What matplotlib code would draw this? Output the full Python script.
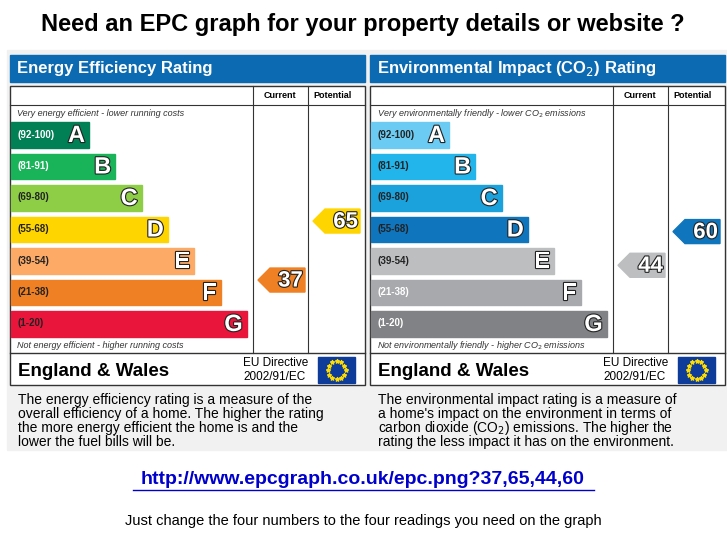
import matplotlib
matplotlib.use("Agg")
import matplotlib.pyplot as plt
from matplotlib.patches import Rectangle, Polygon
import matplotlib.patheffects as pe
import numpy as np

bands = ["A", "B", "C", "D", "E", "F", "G"]
ranges = ["(92-100)", "(81-91)", "(69-80)", "(55-68)", "(39-54)", "(21-38)", "(1-20)"]
band_min = [92, 81, 69, 55, 39, 21, 1]
ee_colors = ["#008054", "#19b459", "#8dce46", "#ffd500", "#fcaa65", "#ef8023", "#e9153b"]
ei_colors = ["#6bcbf3", "#22b5eb", "#1ba2dc", "#0f75bc", "#bcbec0", "#a7a9ac", "#808285"]
ee_label_colors = ["white", "white", "#222222", "#222222", "#222222", "#222222", "#222222"]
ei_label_colors = ["#222222", "#222222", "#222222", "#222222", "#222222", "white", "white"]
ee_current, ee_potential = 37, 65
ei_current, ei_potential = 44, 60

FONT = "Liberation Sans"
fig = plt.figure(figsize=(7.27, 5.45), dpi=100)
ax = fig.add_axes([0, 0, 1, 1])
ax.set_xlim(0, 727); ax.set_ylim(545, 0); ax.axis("off")
fig.patch.set_facecolor("white")

ax.text(363, 25, "Need an EPC graph for your property details or website ?", ha="center", va="center",
        fontsize=17, fontweight="bold", family=FONT)
ax.add_patch(Rectangle((7, 50), 720, 400, color="#f1f1f1", zorder=0))

outline = [pe.withStroke(linewidth=1.6, foreground="#222222")]

def band_of(v):
    for i, m in enumerate(band_min):
        if v >= m:
            return i
    return 6

def arrow(x0, x1, val, colors):
    yc = 358 - 2.107 * val
    h = 12
    poly = Polygon([(x0, yc), (x0 + 12, yc - h), (x1, yc - h), (x1, yc + h), (x0 + 12, yc + h)],
                   color=colors[band_of(val)], zorder=3)
    ax.add_patch(poly)
    ax.text(x1 - 2, yc + 1, str(val), ha="right", va="center", fontsize=16, fontweight="bold",
            color="white", path_effects=outline, zorder=4, family=FONT)

def panel(ox, title, colors, lcolors, top_txt, bot_txt, cur, pot, desc):
    ax.add_patch(Rectangle((ox + 10, 55), 355, 27, color="#0b6ab1", zorder=1))
    ax.text(ox + 17, 69, title, va="center", fontsize=12, fontweight="bold", color="white", family=FONT)
    ax.add_patch(Rectangle((ox + 10, 86), 355, 299, facecolor="white", edgecolor="#333333", lw=1, zorder=1))
    ax.plot([ox + 10, ox + 365], [105, 105], color="#333333", lw=0.8, zorder=2)
    ax.plot([ox + 10, ox + 365], [353, 353], color="#333333", lw=1, zorder=2)
    for xx in (253, 308):
        ax.plot([ox + xx] * 2, [86, 353], color="#333333", lw=0.8, zorder=2)
    ax.text(ox + 280, 96, "Current", ha="center", va="center", fontsize=6.5, fontweight="bold", family=FONT)
    ax.text(ox + 333, 96, "Potential", ha="center", va="center", fontsize=6.5, fontweight="bold", family=FONT)
    ax.text(ox + 17, 113, top_txt, va="center", fontsize=6.5, style="italic", color="#333333", family=FONT)
    ax.text(ox + 17, 345, bot_txt, va="center", fontsize=6.5, style="italic", color="#333333", family=FONT)
    for i, (b, r, c) in enumerate(zip(bands, ranges, colors)):
        y = 122 + i * 31.5
        w = 78 + i * 26.3
        ax.add_patch(Rectangle((ox + 11, y), w, 25.5, color=c, zorder=2))
        ax.text(ox + 17, y + 12.5, r, va="center", fontsize=7, fontweight="bold", color=lcolors[i],
                zorder=3, family=FONT)
        ax.text(ox + 11 + w - 4, y + 13.5, b, ha="right", va="center", fontsize=17, fontweight="bold",
                color="white", path_effects=outline, zorder=3, family=FONT)
    arrow(ox + 258, ox + 305, cur, colors)
    arrow(ox + 313, ox + 360, pot, colors)
    ax.text(ox + 18, 371, "England & Wales", va="center", fontsize=13.5, fontweight="bold", family=FONT)
    ax.text(ox + 243, 363, "EU Directive", va="center", fontsize=8.5, family=FONT)
    ax.text(ox + 243, 377, "2002/91/EC", va="center", fontsize=8.5, family=FONT)
    ax.add_patch(Rectangle((ox + 318, 357), 37, 26, color="#0d3c9b", zorder=2))
    ang = np.linspace(0, 2 * np.pi, 13)[:-1]
    ax.scatter(ox + 336.5 + 9 * np.cos(ang), 370 + 9 * np.sin(ang), marker="*", s=8, color="#ffdd00", zorder=3)
    for k, line in enumerate(desc):
        ax.text(ox + 18, 400 + k * 14, line, va="center", fontsize=10, family=FONT)

panel(0, "Energy Efficiency Rating", ee_colors, ee_label_colors,
      "Very energy efficient - lower running costs", "Not energy efficient - higher running costs",
      ee_current, ee_potential,
      ["The energy efficiency rating is a measure of the", "overall efficiency of a home. The higher the rating",
       "the more energy efficient the home is and the", "lower the fuel bills will be."])
panel(360, "Environmental Impact (CO$_2$) Rating", ei_colors, ei_label_colors,
      "Very environmentally friendly - lower CO$_2$ emissions", "Not environmentally friendly - higher CO$_2$ emissions",
      ei_current, ei_potential,
      ["The environmental impact rating is a measure of", "a home's impact on the environment in terms of",
       "carbon dioxide (CO$_2$) emissions. The higher the", "rating the less impact it has on the environment."])

ax.text(363, 480, "http://www.epcgraph.co.uk/epc.png?37,65,44,60", ha="center", va="center", fontsize=14,
        fontweight="bold", color="#0000cc", family=FONT)
ax.plot([133, 594], [490, 490], color="#0000cc", lw=1)
ax.text(363, 521, "Just change the four numbers to the four readings you need on the graph", ha="center",
        va="center", fontsize=10.5, family=FONT)

fig.savefig("out.png", dpi=100)
